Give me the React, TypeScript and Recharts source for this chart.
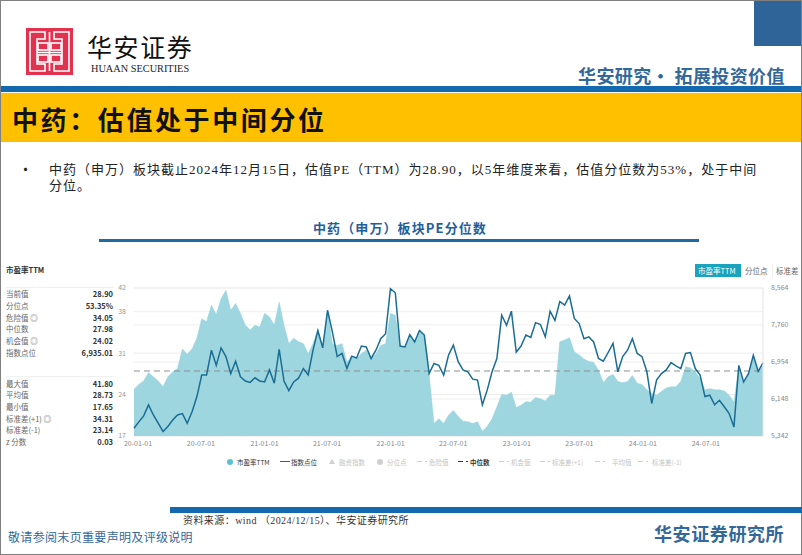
import { ComposedChart, Area, Line, XAxis, YAxis, CartesianGrid, ReferenceLine } from 'recharts';

const peValues = [
  24.9, 25.7, 26.3, 27.7, 27.0, 26.3, 25.3, 27.0, 27.8, 28.4, 31.7, 30.8, 31.7, 33.5, 36.8, 36.3, 39.1, 37.5, 40.2, 41.6,
  38.2, 39.4, 37.7, 35.7, 34.9, 35.7, 35.4, 37.7, 37.1, 35.7, 39.6, 35.7, 32.6, 33.5, 32.9, 32.6, 30.9, 32.6, 34.9, 32.1,
  38.2, 32.6, 32.3, 32.6, 29.5, 30.4, 30.1, 30.9, 31.5, 30.1, 30.9, 32.3, 32.6, 37.7, 37.4, 32.2, 32.1, 34.1, 32.9, 34.9,
  34.0, 27.3, 19.1, 19.9, 19.1, 20.5, 21.3, 20.3, 19.5, 19.4, 19.1, 19.4, 17.8, 18.6, 19.9, 21.9, 24.0, 23.9, 24.4, 21.8,
  22.2, 22.8, 22.7, 23.5, 23.3, 22.9, 23.9, 23.9, 32.9, 33.2, 33.6, 31.2, 30.7, 30.0, 29.6, 29.4, 28.1, 26.0, 27.0, 27.4,
  26.2, 26.0, 26.2, 27.2, 25.9, 25.7, 24.8, 24.2, 23.9, 24.5, 25.1, 25.3, 25.3, 26.2, 28.7, 28.5, 27.8, 26.7, 24.8, 25.0,
  24.8, 24.8, 24.6, 23.9, 22.7, 28.7, 26.0, 27.4, 30.4, 27.8, 28.9,
];

const indexValues = [
  5510, 5650, 5780, 6020, 5800, 5620, 5440, 5550, 5690, 5800, 5830, 5620, 5870, 6200, 6670, 6670, 7210, 6880, 7260, 7070,
  6700, 6970, 6630, 6540, 6510, 6610, 6540, 6520, 6780, 6490, 7230, 6540, 6330, 6520, 6600, 6810, 6670, 7210, 7640, 7260,
  8080, 7610, 7070, 7140, 6810, 7080, 7040, 7300, 7280, 7030, 7210, 7460, 7570, 8550, 8460, 7300, 7280, 7550, 7390, 7640,
  7540, 6700, 6920, 6880, 6670, 7100, 7320, 6960, 6780, 6740, 6580, 6560, 6020, 6340, 6740, 7030, 7970, 7750, 8060, 7170,
  7300, 7540, 7490, 7810, 7770, 7500, 8060, 7860, 8270, 8190, 8390, 7900, 7790, 7460, 7500, 7390, 7030, 6970, 7160, 7360,
  6740, 7070, 7210, 7460, 7140, 7070, 6740, 6050, 6560, 6700, 6780, 6940, 6870, 6810, 7140, 7160, 6810, 6670, 6200, 6230,
  6020, 6120, 5980, 5830, 5540, 6880, 6520, 6700, 7100, 6750, 6935,
];

const stepDays = 14;
const chartData = peValues.map((pe, i) => ({ day: i * stepDays, pe, index: indexValues[i] }));

const xTickDays = [0, 182, 366, 547, 731, 912, 1096, 1277, 1461, 1643];
const xTickLabels = ['20-01-01', '20-07-01', '21-01-01', '21-07-01', '22-01-01', '22-07-01', '23-01-01', '23-07-01', '24-01-01', '24-07-01'];
const peTicks = [17, 24, 31, 38, 42];
const indexTicks = [5342, 6148, 6954, 7760, 8564];
const medianPe = 27.98;

const statLabelsTop = ['当前值', '分位点', '危险值 ◎', '中位数', '机会值 ◎', '指数点位'];
const statValuesTop = ['28.90', '53.35%', '34.05', '27.98', '24.02', '6,935.01'];
const statLabelsBottom = ['最大值', '平均值', '最小值', '标准差(+1) ◎', '标准差(-1)', 'z 分数'];
const statValuesBottom = ['41.80', '28.73', '17.65', '34.31', '23.14', '0.03'];

const sans = '"Noto Sans CJK SC", sans-serif';
const mixed = '"Liberation Serif", "Noto Sans CJK SC", serif';
const navy = '#33689b';

const Txt = ({ x, y, size, color = '#333', bold = false, right = false, spacing = 0, family = sans, children }: any) => (
  <div
    style={{
      position: 'absolute',
      top: y,
      ...(right ? { right: 802 - x } : { left: x }),
      transform: 'translateY(-50%)',
      fontSize: size,
      lineHeight: 1,
      color,
      fontWeight: bold ? 700 : 400,
      letterSpacing: spacing,
      fontFamily: family,
      whiteSpace: 'nowrap',
    }}
  >
    {children}
  </div>
);

const Box = ({ x, y, w, h, color }: any) => (
  <div style={{ position: 'absolute', left: x, top: y, width: w, height: h, background: color }} />
);

const Logo = () => (
  <svg style={{ position: 'absolute', left: 26, top: 28 }} width={47} height={47}>
    <rect width={47} height={47} fill="#e2324f" />
    <g fill="none" stroke="#fff" strokeWidth={1.6}>
      <path d="M4 4H19V11H11V36H19V43H4Z" />
      <path d="M43 4H28V11H36V36H28V43H43Z" />
      <rect x={12} y={15} width={10} height={7} />
      <rect x={25} y={15} width={10} height={7} />
      <rect x={12} y={27} width={10} height={7} />
      <rect x={25} y={27} width={10} height={7} />
      <path d="M23.5 4V43M12 24.5H35" />
    </g>
  </svg>
);

const LegendItem = ({ x, textX, label, kind, active = false, dark = false }: any) => {
  const c = active ? '#1b6d94' : '#cfcfcf';
  return (
    <>
      {kind === 'dot' && (
        <div style={{ position: 'absolute', left: x - 3, top: 459, width: 6, height: 6, borderRadius: 3, background: active ? '#5cc0d0' : '#cfcfcf' }} />
      )}
      {kind === 'line' && <Box x={x - 5} y={461} w={10} h={1} color={c} />}
      {kind === 'dash' && <Box x={x - 5} y={461} w={5} h={1} color={dark ? '#333' : '#cfcfcf'} />}
      {kind === 'dash' && <Box x={x + 3} y={461} w={2} h={1} color={dark ? '#333' : '#cfcfcf'} />}
      {kind === 'tri' && (
        <div style={{ position: 'absolute', left: x - 3, top: 459, width: 0, height: 0, borderLeft: '3px solid transparent', borderRight: '3px solid transparent', borderBottom: '5px solid #cfcfcf' }} />
      )}
      <Txt x={textX} y={462} size={6.5} color={active || dark ? '#333' : '#c4c4c4'} bold={dark}>{label}</Txt>
    </>
  );
};

const App = () => (
  <div style={{ position: 'absolute', left: 0, top: 0, width: 802, height: 555, overflow: 'hidden', background: '#fff' }}>
    <Box x={0} y={0} w={802} h={1} color="#808080" />
    <Box x={0} y={0} w={1} h={555} color="#808080" />
    <Box x={801} y={0} w={1} h={555} color="#808080" />
    <Box x={0} y={554} w={802} h={1} color="#808080" />

    <Logo />
    <Txt x={87} y={46} size={25} color="#111" spacing={1.6}>华安证券</Txt>
    <Txt x={91} y={69} size={10.3} color="#222" family={mixed}>HUAAN SECURITIES</Txt>
    <Box x={754} y={1} w={47} h={45} color="#2f6499" />
    <Txt x={578} y={75} size={18} color={navy} bold spacing={0.4}>华安研究• 拓展投资价值</Txt>
    <Box x={1} y={86} w={800} h={6} color="#1369ae" />
    <Box x={1} y={93} w={800} h={49} color="#ffc000" />
    <Txt x={12} y={119} size={26} color="#111" bold spacing={2.6}>中药：估值处于中间分位</Txt>

    <Txt x={18} y={168} size={15} color="#222">•</Txt>
    <Txt x={49} y={169} size={13} color="#222" family={mixed} spacing={1}>中药（申万）板块截止2024年12月15日，估值PE（TTM）为28.90，以5年维度来看，估值分位数为53%，处于中间</Txt>
    <Txt x={49} y={185} size={13} color="#222" family={mixed} spacing={1}>分位。</Txt>

    <Txt x={313} y={227} size={13} color="#1f5f9e" bold spacing={1.1}>中药（申万）板块PE分位数</Txt>
    <Box x={99} y={239} w={600} h={3} color="#1f6aa5" />

    <Txt x={6} y={270} size={7.5} color="#333" bold>市盈率TTM</Txt>
    <Box x={6} y={287} w={108} h={1} color="#f0f0f0" />
    <Box x={6} y={376} w={108} h={1} color="#f0f0f0" />
    {statLabelsTop.map((s, i) => (
      <div key={s}>
        <Txt x={6} y={294 + i * 11.8} size={7.5} color="#666">{s}</Txt>
        <Txt x={113} y={294 + i * 11.8} size={7.5} color="#333" right bold>{statValuesTop[i]}</Txt>
      </div>
    ))}
    {statLabelsBottom.map((s, i) => (
      <div key={s}>
        <Txt x={6} y={383.5 + i * 11.7} size={7.5} color="#666">{s}</Txt>
        <Txt x={113} y={383.5 + i * 11.7} size={7.5} color="#333" right bold>{statValuesBottom[i]}</Txt>
      </div>
    ))}

    <Box x={695} y={264} w={46} h={13} color="#1ba3bd" />
    <Txt x={698} y={270.5} size={7.5} color="#fff">市盈率TTM</Txt>
    <Box x={741} y={264} w={1} h={13} color="#eee" />
    <Txt x={745} y={270.5} size={7.5} color="#666">分位点</Txt>
    <Box x={772} y={264} w={1} h={13} color="#eee" />
    <Txt x={776} y={270.5} size={7.5} color="#666">标准差</Txt>

    <div style={{ position: 'absolute', left: 104, top: 278 }}>
      <ComposedChart
        width={698}
        height={178}
        data={chartData}
        margin={{ top: 10, right: 0, bottom: 0, left: 0 }}
      >
        <CartesianGrid yAxisId="pe" vertical={false} stroke="#eeeeee" />
        <CartesianGrid yAxisId="index" vertical={false} stroke="#eeeeee" />
        <XAxis
          dataKey="day"
          type="number"
          domain={[0, 1820]}
          ticks={xTickDays}
          tickFormatter={(d: number) => xTickLabels[xTickDays.indexOf(d)]}
          tick={{ fontSize: 7, fill: '#888', dx: 4, fontFamily: sans }}
          tickLine={false}
          axisLine={false}
          tickMargin={-1}
          height={20}
          interval={0}
        />
        <YAxis
          yAxisId="pe"
          domain={[17, 42]}
          ticks={peTicks}
          tick={{ fontSize: 7, fill: '#999', fontFamily: sans }}
          tickLine={false}
          axisLine={false}
          tickMargin={2}
          width={30}
          interval={0}
        />
        <YAxis
          yAxisId="index"
          orientation="right"
          domain={[5342, 8564]}
          ticks={indexTicks}
          tickFormatter={(v: number) => v.toLocaleString('en-US')}
          tick={{ fontSize: 7, fill: '#888', fontFamily: sans }}
          tickLine={{ stroke: '#e4e4e4' }}
          tickSize={0}
          axisLine={{ stroke: '#e4e4e4' }}
          tickMargin={8}
          width={39}
          interval={0}
        />
        <Area
          yAxisId="pe"
          type="linear"
          dataKey="pe"
          stroke="#8fd0da"
          strokeWidth={0.5}
          fill="#9dd6df"
          fillOpacity={1}
          isAnimationActive={false}
        />
        <ReferenceLine yAxisId="pe" y={medianPe} stroke="#8a8f92" strokeDasharray="6 4" strokeWidth={1} />
        <Line
          yAxisId="index"
          type="linear"
          dataKey="index"
          stroke="#1b6d94"
          strokeWidth={1.5}
          dot={false}
          isAnimationActive={false}
        />
      </ComposedChart>
    </div>

    <LegendItem x={230} textX={237} label="市盈率TTM" kind="dot" active />
    <LegendItem x={285} textX={291} label="指数点位" kind="line" active />
    <LegendItem x={332} textX={339} label="融资指数" kind="tri" />
    <LegendItem x={380} textX={387} label="分位点" kind="dot" />
    <LegendItem x={422} textX={429} label="危险值" kind="dash" />
    <LegendItem x={463} textX={470} label="中位数" kind="dash" dark />
    <LegendItem x={504} textX={511} label="机会值" kind="dash" />
    <LegendItem x={545} textX={552} label="标准差(+1)" kind="dash" />
    <LegendItem x={600} textX={612} label="平均值" kind="dash" />
    <LegendItem x={643} textX={652} label="标准差(-1)" kind="dash" />

    <Box x={170} y={507} w={632} h={6} color="#1369ae" />
    <Txt x={183} y={521} size={10} color="#333" family={mixed} spacing={0.43}>资料来源：wind （2024/12/15）、华安证券研究所</Txt>
    <Txt x={8} y={537} size={12} color={navy} spacing={0.33}>敬请参阅末页重要声明及评级说明</Txt>
    <Txt x={654} y={533} size={18} color={navy} bold spacing={0.6}>华安证券研究所</Txt>
  </div>
);

export default App;
